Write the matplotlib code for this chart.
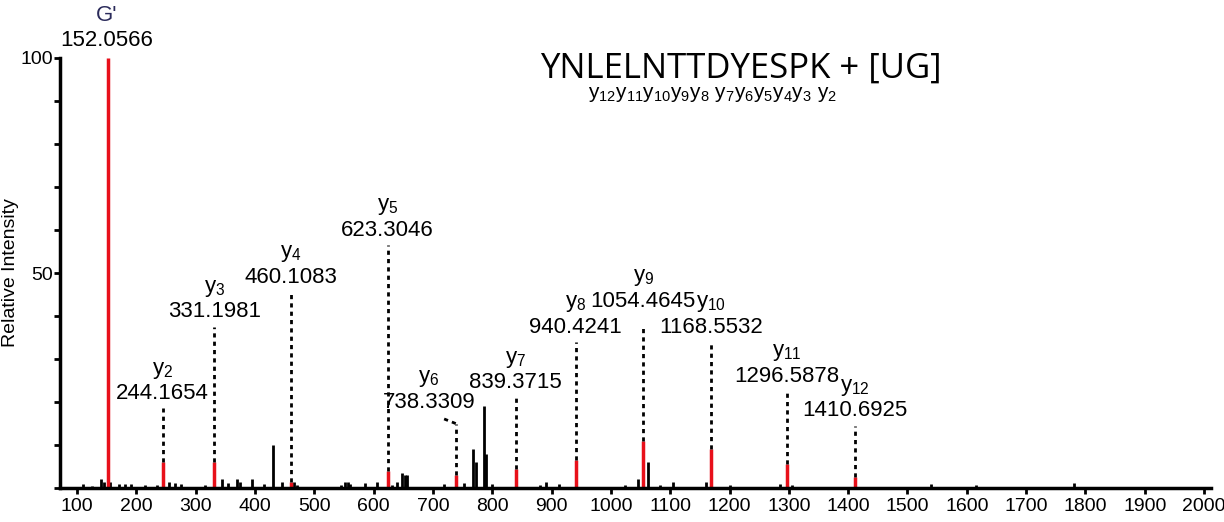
import matplotlib.pyplot as plt
import numpy as np

plt.rcParams["font.family"] = ["Liberation Sans", "DejaVu Sans"]
plt.rcParams["mathtext.fontset"] = "custom"
plt.rcParams["mathtext.rm"] = "Liberation Sans"
plt.rcParams["mathtext.it"] = "Liberation Sans"

# annotated fragment ions (red)
ion_names = ["G'", "y2", "y3", "y4", "y5", "y6", "y7", "y8", "y9", "y10", "y11", "y12"]
ion_mz = [152.0566, 244.1654, 331.1981, 460.1083, 623.3046, 738.3309, 839.3715,
          940.4241, 1054.4645, 1168.5532, 1296.5878, 1410.6925]
ion_int = [100, 6, 6, 1.5, 4, 3, 4.5, 6.5, 11, 9, 5.5, 2.5]
line_top = [None, 18.5, 37.5, 45.5, 56.5, 15, 21, 34, 37.5, 34, 22.5, 14.5]
label_gap = [0, 1, 1, 1, 1, 2.5, 1, 1, 3.5, 1, 1, 1]

# background peaks (black)
bg_mz = [110, 125, 140, 145, 155, 170, 180, 190, 215, 235, 255, 265, 275, 315, 345, 355,
         370, 375, 395, 415, 430, 445, 465, 470, 545, 552, 556, 560, 585, 605, 630, 640,
         648, 652, 656, 718, 752, 768, 772, 786, 790, 800, 880, 890, 912, 1023, 1045,
         1063, 1082, 1105, 1160, 1200, 1285, 1305, 1540, 1615, 1780]
bg_int = [1, 0.5, 2, 1.5, 1.5, 1, 1, 1, 0.8, 0.8, 1.5, 1.2, 1, 0.7, 2, 1.2,
          2, 1.5, 2, 1, 10, 1.5, 1.5, 0.8, 0.7, 1.5, 1.5, 1, 1.2, 1.3, 0.8, 1.5,
          3.5, 3, 3, 1, 1.2, 9, 6, 19, 8, 1, 0.8, 1.3, 1, 0.8, 2, 6, 0.8, 1.4, 1.3,
          0.8, 1, 0.8, 1, 0.8, 1.2]

fig = plt.figure(figsize=(12.24, 5.22), dpi=100)
ax = fig.add_axes([0.049, 0.065, 0.94, 0.824])

ax.vlines(bg_mz, 0, bg_int, color="black", lw=2)
ax.vlines(ion_mz, 0, ion_int, color="#e8101a", lw=2.5)

fs = 16
for name, mz, h, top, gap in zip(ion_names, ion_mz, ion_int, line_top, label_gap):
    if name == "G'":
        ax.text(mz - 3, 101.5, f"{mz:.4f}", ha="center", va="bottom", fontsize=fs)
        ax.text(mz - 3, 107.5, "G'", ha="center", va="bottom", fontsize=fs, color="#2a2a5a")
        continue
    ax.plot([mz, mz], [h, top], ls=(0, (1.5, 1.5)), color="black", lw=2)
    lx = mz
    if name == "y6":
        ax.plot([mz, mz - 22], [top, top + 1.2], ls=(0, (1.5, 1.5)), color="black", lw=2)
        lx = mz - 45
    ly = top + gap
    ax.text(lx, ly, f"{mz:.4f}", ha="center", va="bottom", fontsize=fs)
    ax.text(lx, ly + 5.5, "y$_{" + name[1:] + "}$", ha="center", va="bottom", fontsize=fs)

ax.text(880, 97.5, "YNLELNTTDYESPK + [UG]", fontsize=25, family="Open Sans", ha="left", va="center")
ax.text(962, 91.5, "y$_{12}$y$_{11}$y$_{10}$y$_9$y$_8$ y$_7$y$_6$y$_5$y$_4$y$_3$ y$_2$",
        fontsize=15, ha="left", va="center")

ax.set_xlim(71, 2011)
ax.set_ylim(0, 100)
ax.set_xticks(np.arange(100, 2001, 100))
ax.set_yticks([50, 100])
ax.set_yticks(np.arange(0, 101, 10), minor=True)
ax.tick_params(axis="x", labelsize=14, width=2, length=4)
ax.tick_params(axis="y", labelsize=14, width=2, length=4, pad=1)
ax.tick_params(axis="y", which="minor", width=2, length=4)
ax.set_ylabel("Relative Intensity", fontsize=14)
ax.yaxis.set_label_coords(-0.036, 0.5)
for s in ["top", "right"]:
    ax.spines[s].set_visible(False)
for s in ["left", "bottom"]:
    ax.spines[s].set_linewidth(2.5)

fig.savefig("out.png", dpi=100)
